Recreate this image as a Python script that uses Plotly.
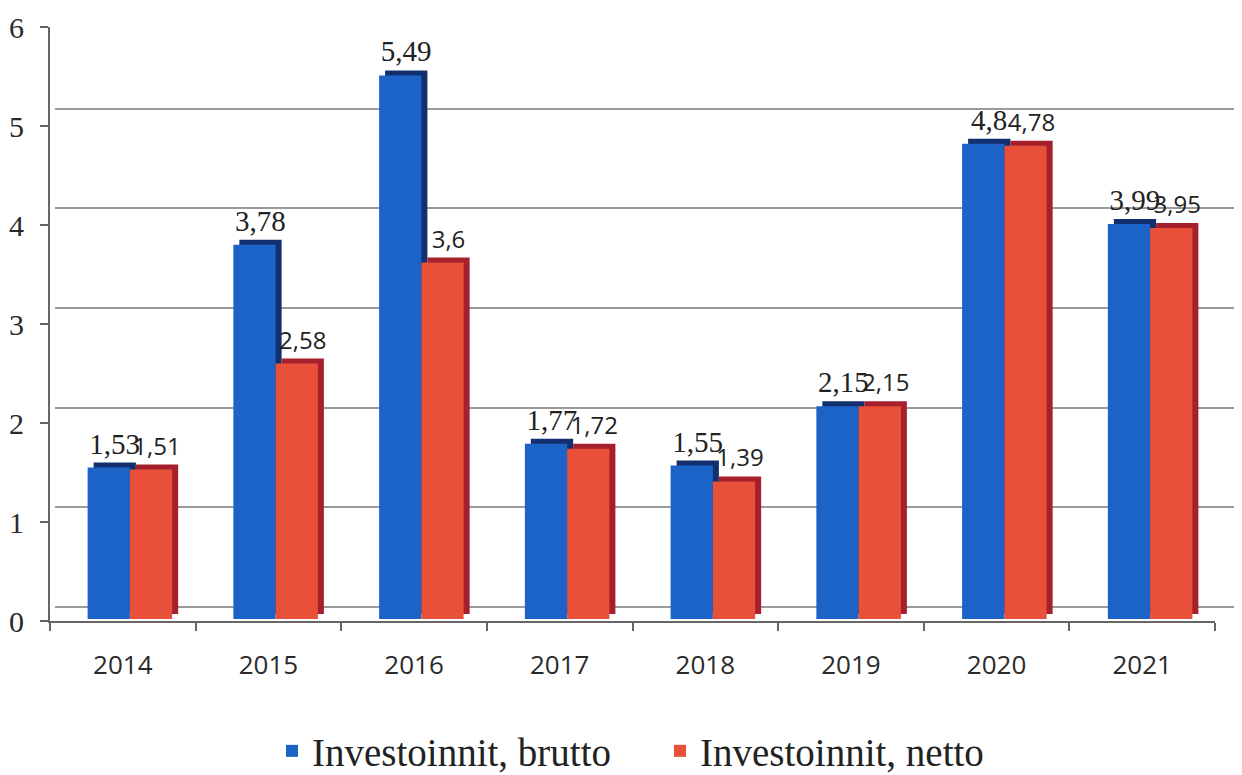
import plotly.graph_objects as go

years = ["2014","2015","2016","2017","2018","2019","2020","2021"]
brutto = [1.53,3.78,5.49,1.77,1.55,2.15,4.8,3.99]
netto = [1.51,2.58,3.6,1.72,1.39,2.15,4.78,3.95]
brutto_labels = ["1,53","3,78","5,49","1,77","1,55","2,15","4,8","3,99"]
netto_labels = ["1,51","2,58","3,6","1,72","1,39","2,15","4,78","3,95"]

W, H = 1234, 766  # page keeps an 8px body margin around the figure
OX, OY = 8, 9
def xd(a, b): return [(a - OX) / W, (b - OX) / W]
def yd(bottom, top): return [1 - (bottom - OY) / H, 1 - (top - OY) / H]

GAP = 0.42
XR = [-0.5, 7.5]
fig = go.Figure()
# back wall: gridlines
fig.add_scatter(x=years, y=brutto, mode="lines", line=dict(width=0), opacity=0,
                showlegend=False, hoverinfo="skip", xaxis="x", yaxis="y")
# bar depth (offset sides) carrying the value labels
fig.add_bar(x=years, y=brutto, text=brutto_labels, showlegend=False, xaxis="x2", yaxis="y2",
            offsetgroup="a", marker=dict(color="#12306e", line=dict(width=0)),
            textposition="outside", cliponaxis=False, constraintext="none",
            textfont=dict(family="Liberation Serif", size=29, color="#222"))
fig.add_bar(x=years, y=netto, text=netto_labels, showlegend=False, xaxis="x2", yaxis="y2",
            offsetgroup="b", marker=dict(color="#a51f2c", line=dict(width=0)),
            textposition="outside", cliponaxis=False, constraintext="none",
            textfont=dict(family="Open Sans", size=24, color="#222"))
# bar fronts
fig.add_bar(name="Investoinnit, brutto", x=years, y=brutto, xaxis="x3", yaxis="y3", legend="legend",
            offsetgroup="a", marker=dict(color="#1c63c8", line=dict(width=0)), cliponaxis=False)
fig.add_bar(name="Investoinnit, netto", x=years, y=netto, xaxis="x3", yaxis="y3", legend="legend2",
            offsetgroup="b", marker=dict(color="#e9503a", line=dict(width=0)), cliponaxis=False)
# front axes with the tick labels
fig.add_scatter(x=years, y=brutto, mode="lines", line=dict(width=0), opacity=0,
                showlegend=False, hoverinfo="skip", xaxis="x4", yaxis="y4")

hidden = dict(showticklabels=False, showgrid=False, showline=False, zeroline=False, ticks="")
legend_font = dict(family="Liberation Serif", size=39, color="#222")
fig.update_layout(
    width=W, height=H, barmode="group", bargap=GAP, bargroupgap=0,
    paper_bgcolor="white", plot_bgcolor="rgba(0,0,0,0)",
    margin=dict(l=0, r=0, t=0, b=0, autoexpand=False),
    legend=dict(x=(272 - OX) / W, xanchor="left", y=1 - (752 - OY) / H, yanchor="middle",
                font=legend_font, bgcolor="rgba(0,0,0,0)"),
    legend2=dict(x=(660 - OX) / W, xanchor="left", y=1 - (752 - OY) / H, yanchor="middle",
                 font=legend_font, bgcolor="rgba(0,0,0,0)"),
    xaxis=dict(domain=xd(55, 1235), anchor="y", type="category", range=XR, **hidden),
    yaxis=dict(domain=yd(608, 10), anchor="x", range=[0, 6], dtick=1, showticklabels=False,
               showline=False, ticks="", showgrid=True, gridcolor="#9a9a9a", gridwidth=2,
               zeroline=True, zerolinecolor="#9a9a9a", zerolinewidth=2),
    xaxis2=dict(domain=xd(63, 1229), anchor="y2", type="category", range=XR, **hidden),
    yaxis2=dict(domain=yd(615, 21), anchor="x2", range=[0, 6], **hidden),
    xaxis3=dict(domain=xd(57, 1223), anchor="y3", type="category", range=XR, **hidden),
    yaxis3=dict(domain=yd(620, 26), anchor="x3", range=[0, 6], **hidden),
    xaxis4=dict(domain=xd(50, 1215), anchor="y4", type="category", range=XR, tickson="boundaries",
                showgrid=False, zeroline=False, showline=True, linecolor="#666", linewidth=2,
                ticks="outside", ticklen=8, tickcolor="#666", tickwidth=2, ticklabelstandoff=20,
                tickfont=dict(family="Open Sans", size=26, color="#2a2a2a")),
    yaxis4=dict(domain=yd(622, 28), anchor="x4", range=[0, 6], dtick=1, showgrid=False,
                zeroline=False, showline=True, linecolor="#666", linewidth=2,
                ticks="outside", ticklen=8, tickcolor="#666", tickwidth=2, ticklabelstandoff=10,
                tickfont=dict(family="Liberation Serif", size=30, color="#2a2a2a")),
)
fig.write_html("out.html")
